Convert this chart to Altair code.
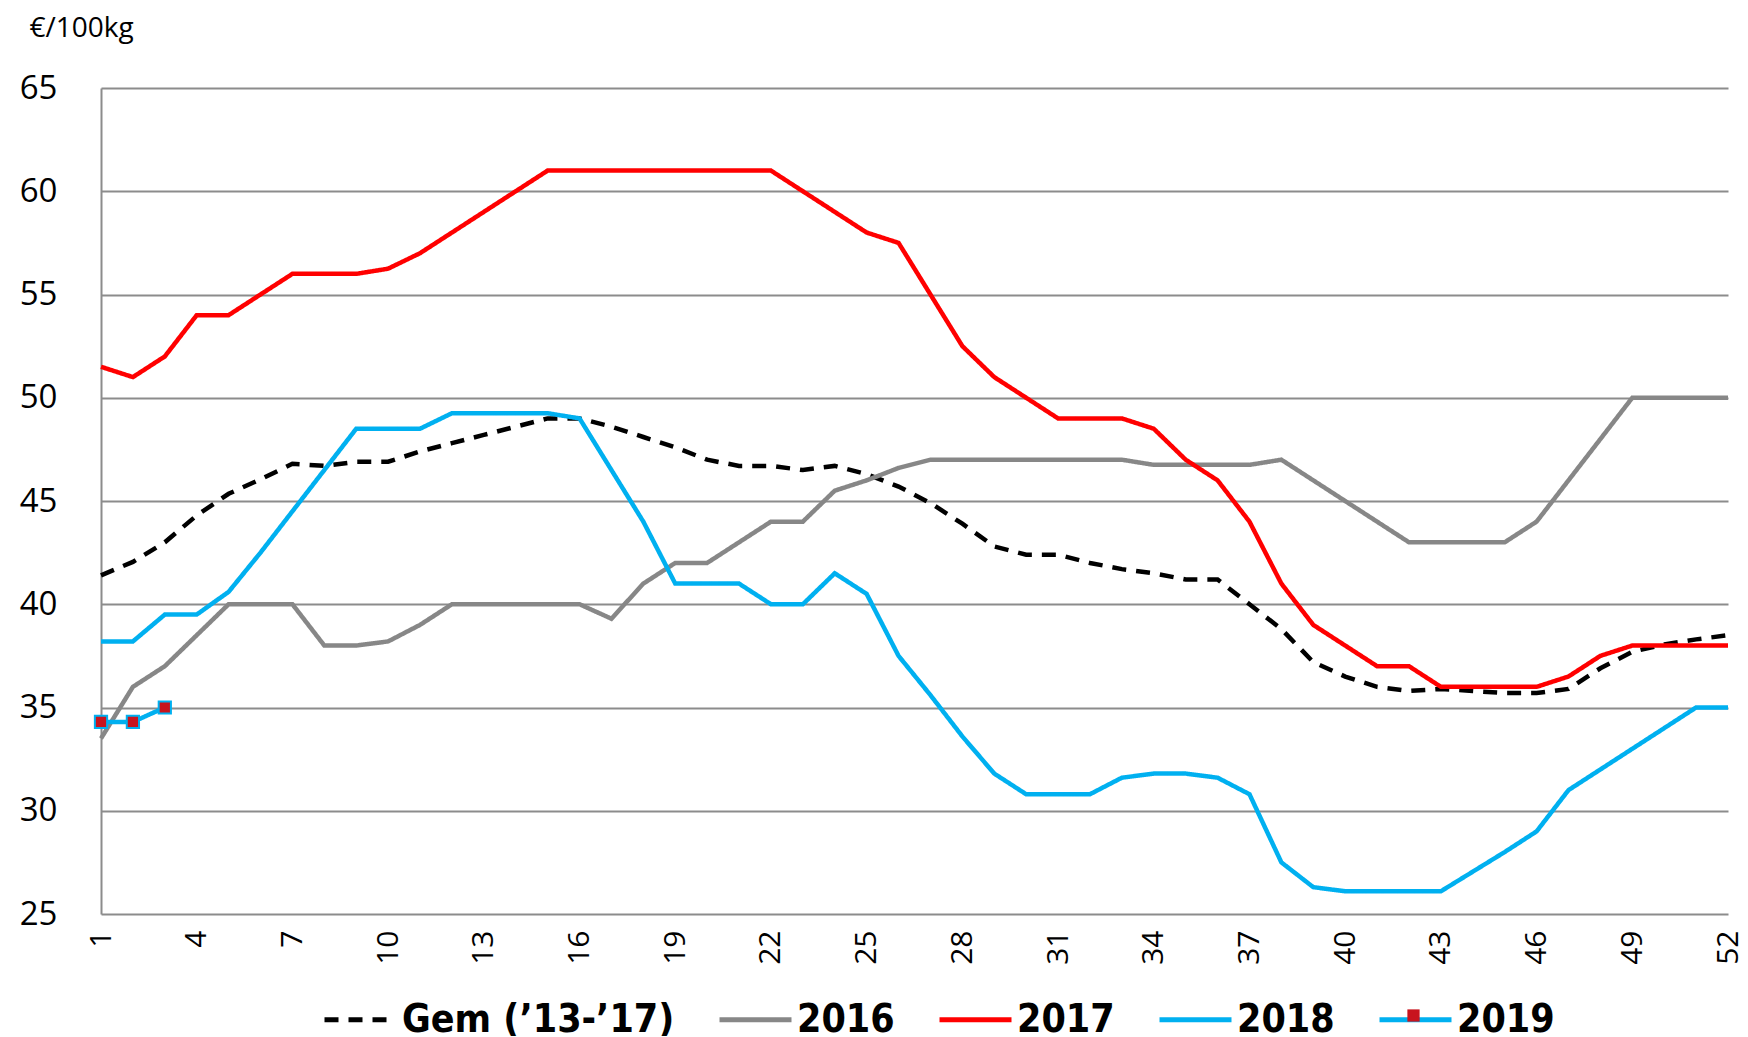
import altair as alt
import pandas as pd

weeks = list(range(1, 53))
series_names = ["Gem (’13-’17)", "2016", "2017", "2018", "2019"]

gem = [41.4, 42.05, 43.0, 44.3, 45.35, 46.05, 46.8, 46.7, 46.9, 46.9,
       47.4, 47.8, 48.2, 48.6, 49.0, 49.0, 48.6, 48.1, 47.6, 47.0,
       46.7, 46.7, 46.5, 46.7, 46.3, 45.7, 44.9, 43.9, 42.8, 42.4,
       42.4, 42.0, 41.7, 41.5, 41.2, 41.2, 40.0, 38.8, 37.2, 36.5,
       36.0, 35.8, 35.9, 35.8, 35.7, 35.7, 35.9, 36.9, 37.7, 38.05,
       38.3, 38.5]
y2016 = [33.5, 36, 37, 38.5, 40, 40, 40, 38, 38, 38.2,
         39, 40, 40, 40, 40, 40, 39.3, 41, 42, 42,
         43, 44, 44, 45.5, 46, 46.6, 47, 47, 47, 47,
         47, 47, 47, 46.75, 46.75, 46.75, 46.75, 47, 46, 45,
         44, 43, 43, 43, 43, 44, 46, 48, 50, 50,
         50, 50]
y2017 = [51.5, 51, 52, 54, 54, 55, 56, 56, 56, 56.25,
         57, 58, 59, 60, 61, 61, 61, 61, 61, 61,
         61, 61, 60, 59, 58, 57.5, 55, 52.5, 51, 50,
         49, 49, 49, 48.5, 47, 46, 44, 41, 39, 38,
         37, 37, 36, 36, 36, 36, 36.5, 37.5, 38, 38,
         38, 38]
y2018 = [38.2, 38.2, 39.5, 39.5, 40.6, 42.5, 44.5, 46.5, 48.5, 48.5,
         48.5, 49.25, 49.25, 49.25, 49.25, 49, 46.5, 44, 41, 41,
         41, 40, 40, 41.5, 40.5, 37.5, 35.6, 33.6, 31.8, 30.8,
         30.8, 30.8, 31.6, 31.8, 31.8, 31.6, 30.8, 27.5, 26.3, 26.1,
         26.1, 26.1, 26.1, 27.05, 28, 29, 31, 32, 33, 34,
         35, 35]
y2019 = [34.3, 34.3, 35.0]

colors = ["#000000", "#878787", "#FF0000", "#00B0F0", "#00B0F0"]
dashes = [[14, 10], [1, 0], [1, 0], [1, 0], [1, 0]]
y_ticks = [25, 30, 35, 40, 45, 50, 55, 60, 65]
x_ticks = list(range(1, 53, 3))

rows = []
for name, vals in zip(series_names, [gem, y2016, y2017, y2018, y2019]):
    for w, v in zip(weeks, vals):
        rows.append({"series": name, "week": w, "value": v, "marker": name})
df = pd.DataFrame(rows)

font = "Open Sans"
legend_font = "DejaVu Sans Condensed, DejaVu Sans, sans-serif"

x_enc = alt.X("week:Q",
              scale=alt.Scale(domain=[1, 52], nice=False, zero=False),
              axis=alt.Axis(values=x_ticks, labelAngle=-90, labelFontSize=30,
                            labelFont=font, labelColor="#000000", grid=False,
                            ticks=False, domain=False, labelPadding=16, title=None))
y_enc = alt.Y("value:Q",
              scale=alt.Scale(domain=[25, 65], nice=False, zero=False),
              axis=alt.Axis(values=y_ticks, labelFontSize=33, labelFont=font,
                            labelColor="#000000", grid=True, gridColor="#8c8c8c",
                            gridWidth=2, ticks=False, domain=True,
                            domainColor="#8c8c8c", domainWidth=2, labelPadding=44,
                            title="€/100kg", titleAngle=0, titleAlign="left",
                            titleBaseline="top", titleX=-72, titleY=-74,
                            titleFont=font, titleFontSize=28,
                            titleFontWeight="normal", titleColor="#000000"))

legend_kw = dict(title=None, orient="none", legendX=221, legendY=893,
                 direction="horizontal", symbolType="stroke", symbolSize=5184,
                 symbolStrokeWidth=5, labelFontSize=39, labelFont=legend_font,
                 labelFontWeight="bold", labelColor="#000000",
                 columnPadding=34, labelOffset=3, labelLimit=500)

lines = alt.Chart(df).mark_line(strokeWidth=4.5, strokeCap="butt").encode(
    x=x_enc,
    y=y_enc,
    color=alt.Color("series:N",
                    scale=alt.Scale(domain=series_names, range=colors),
                    sort=series_names, legend=alt.Legend(**legend_kw)),
    strokeDash=alt.StrokeDash("series:N",
                              scale=alt.Scale(domain=series_names, range=dashes),
                              sort=series_names, legend=alt.Legend(**legend_kw)),
    detail="series:N",
)

pts_df = df[df["series"] == "2019"]
points = alt.Chart(pts_df).mark_point(size=150, filled=True, fill="#C8141E",
                                      stroke="#00B0F0", strokeWidth=2,
                                      opacity=1).encode(
    x="week:Q", y="value:Q",
    shape=alt.Shape("marker:N", scale=alt.Scale(domain=["2019"], range=["square"]),
                    legend=alt.Legend(title=None, orient="none", legendX=1305,
                                      legendY=920, labelExpr="''",
                                      symbolFillColor="#C8141E",
                                      symbolStrokeColor="#00B0F0",
                                      symbolStrokeWidth=2, symbolSize=150,
                                      symbolOpacity=1, labelFontSize=1,
                                      labelOffset=0)),
)

chart = alt.layer(lines, points).properties(
    width=1627, height=826,
    padding={"left": 93, "top": 80, "right": 12, "bottom": 122},
    autosize=alt.AutoSizeParams(type="none"),
).configure_view(stroke=None)

chart.save("out.html", embed_options={"renderer": "svg", "actions": False})
